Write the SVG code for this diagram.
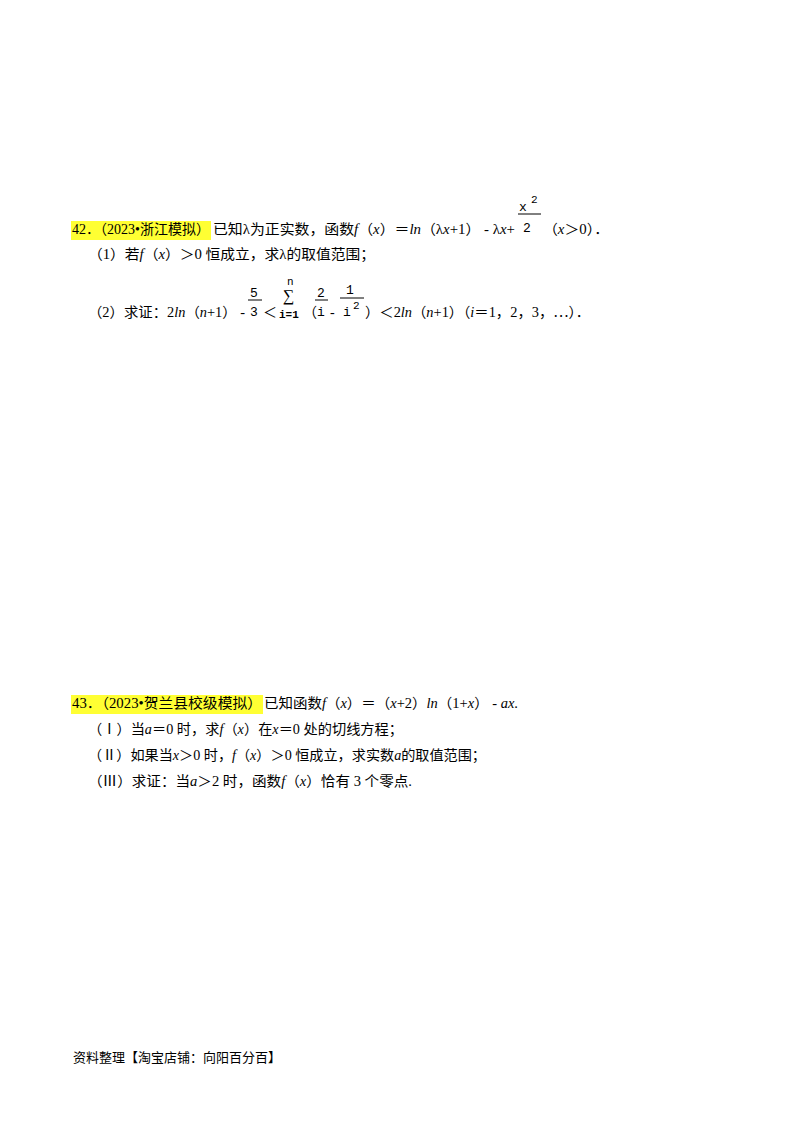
<svg xmlns="http://www.w3.org/2000/svg" width="800" height="1132" viewBox="0 0 800 1132">
<style>
text{font-family:"Liberation Serif","Noto Sans CJK SC",serif;font-size:14px;fill:#000}
.m{font-family:"Liberation Mono","DejaVu Sans Mono",monospace;font-size:13px}
.i{font-style:italic}
.hl{fill:#ffff33}
</style>
<rect width="800" height="1132" fill="#fff"/>
<g id="q42">
<rect class="hl" x="71" y="221" width="140" height="19"/>
<text x="72" y="234" textLength="138" lengthAdjust="spacingAndGlyphs">42．（2023•浙江模拟）</text>
<text x="213" y="234" textLength="302" lengthAdjust="spacingAndGlyphs">已知λ为正实数，函数<tspan class="i">f</tspan>（<tspan class="i">x</tspan>）＝<tspan class="i">ln</tspan>（λ<tspan class="i">x</tspan>+1） - λ<tspan class="i">x</tspan>+</text>
<text class="m" x="519" y="211">x</text><text class="m" x="531" y="203" style="font-size:11px">2</text>
<line x1="518" y1="214" x2="541" y2="214" stroke="#000" stroke-width="1"/>
<text class="m" x="523" y="232">2</text>
<text x="543" y="234" textLength="66" lengthAdjust="spacingAndGlyphs">（<tspan class="i">x</tspan>＞0）．</text>
<text x="88" y="259" textLength="287" lengthAdjust="spacingAndGlyphs">（1）若<tspan class="i">f</tspan>（<tspan class="i">x</tspan>）＞0 恒成立，求λ的取值范围；</text>
<text x="88" y="317" textLength="157" lengthAdjust="spacingAndGlyphs">（2）求证：2<tspan class="i">ln</tspan>（<tspan class="i">n</tspan>+1） -</text>
<text class="m" x="250" y="297">5</text>
<line x1="248" y1="300" x2="262" y2="300" stroke="#000"/>
<text class="m" x="250" y="316">3</text>
<text x="263" y="317">＜</text>
<text class="m" x="287" y="285" style="font-size:11px">n</text>
<text x="283" y="301" style="font-size:16px">∑</text>
<text class="m" x="279" y="318" style="font-size:11px;font-weight:bold">i=1</text>
<text x="303" y="317">（</text>
<text class="m" x="317" y="297">2</text>
<line x1="315" y1="300" x2="328" y2="300" stroke="#000"/>
<text class="m" x="317" y="316">i</text>
<text x="330" y="317">-</text>
<text class="m" x="346" y="294">1</text>
<line x1="340" y1="298" x2="364" y2="298" stroke="#000"/>
<text class="m" x="343" y="316">i</text><text class="m" x="353" y="309" style="font-size:11px">2</text>
<text x="365" y="317" textLength="225" lengthAdjust="spacingAndGlyphs">）＜2<tspan class="i">ln</tspan>（<tspan class="i">n</tspan>+1）（<tspan class="i">i</tspan>＝1，2，3，⋯）．</text>
</g>
<g id="q43">
<rect class="hl" x="71" y="695" width="192" height="19"/>
<text x="72" y="708" textLength="190" lengthAdjust="spacingAndGlyphs">43．（2023•贺兰县校级模拟）</text>
<text x="264" y="708" textLength="254" lengthAdjust="spacingAndGlyphs">已知函数<tspan class="i">f</tspan>（<tspan class="i">x</tspan>）＝（<tspan class="i">x</tspan>+2）<tspan class="i">ln</tspan>（1+<tspan class="i">x</tspan>） - <tspan class="i">ax</tspan>.</text>
<text x="88" y="734" textLength="315" lengthAdjust="spacingAndGlyphs">（Ⅰ）当<tspan class="i">a</tspan>＝0 时，求<tspan class="i">f</tspan>（<tspan class="i">x</tspan>）在<tspan class="i">x</tspan>＝0 处的切线方程；</text>
<text x="88" y="760" textLength="398" lengthAdjust="spacingAndGlyphs">（Ⅱ）如果当<tspan class="i">x</tspan>＞0 时，<tspan class="i">f</tspan>（<tspan class="i">x</tspan>）＞0 恒成立，求实数<tspan class="i">a</tspan>的取值范围；</text>
<text x="88" y="786" textLength="324" lengthAdjust="spacingAndGlyphs">（Ⅲ）求证：当<tspan class="i">a</tspan>＞2 时，函数<tspan class="i">f</tspan>（<tspan class="i">x</tspan>）恰有 3 个零点.</text>
</g>
<text id="footer" x="73" y="1062" style="font-size:13px">资料整理【淘宝店铺：向阳百分百】</text>
</svg>
